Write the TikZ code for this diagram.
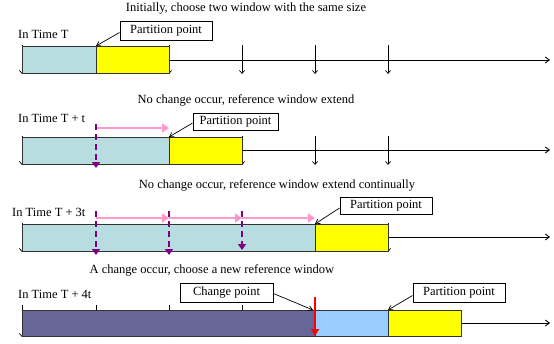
\documentclass[tikz,border=0pt]{standalone}
\usepackage{fontspec}
\setmainfont{Liberation Serif}
\usetikzlibrary{arrows.meta,calc}
\definecolor{refblue}{RGB}{183,221,224}
\definecolor{winyellow}{RGB}{255,255,0}
\definecolor{oldwin}{RGB}{102,102,153}
\definecolor{newblue}{RGB}{153,204,255}
\definecolor{pinkarr}{RGB}{255,153,204}
\definecolor{purparr}{RGB}{128,0,128}
\tikzset{
  win/.style={draw=black!80, line width=0.9pt, anchor=north west, inner sep=0pt, minimum height=27pt},
  timeline/.style={line width=0.9pt, -{Straight Barb[length=4pt,width=6pt]}},
  tickarr/.style={line width=0.7pt, -{Straight Barb[length=3pt,width=5pt]}},
  title/.style={font=\fontsize{12.5}{14}\selectfont, inner sep=0pt},
  label/.style={font=\fontsize{12.5}{14}\selectfont, inner sep=0pt, anchor=west},
  callout/.style={draw, line width=0.9pt, font=\fontsize{12.5}{14}\selectfont, inner sep=0pt, fill=white},
  pointer/.style={line width=0.7pt, -{Straight Barb[length=4pt,width=5pt]}},
  extend/.style={draw=pinkarr, line width=2.8pt, -{Triangle[length=7pt,width=9pt]}},
  tickdash/.style={draw=purparr, line width=2.6pt, dash pattern=on 6pt off 4pt, -{Triangle[length=6pt,width=8pt]}},
  changearr/.style={draw=red, line width=2.6pt, -{Triangle[length=7pt,width=8pt]}}
}
\begin{document}
\begin{tikzpicture}[x=1pt,y=-1pt]
\useasboundingbox (0,0) rectangle (554,343);

% ---------------- Row 1 ----------------
\node[title] (t1) at (246,9) {Initially, choose two window with the same size};
\node[label] (l1) at (18,34) {In Time T};
\coordinate (s1) at (22,60);
\coordinate (e1) at (550,60);
\draw[timeline] (s1) -- (e1);
\foreach \x in {22,96,169,242,315,388}{
  \coordinate (k1a\x) at (\x,45);
  \coordinate (k1b\x) at (\x,74);
  \draw[tickarr] (k1a\x) -- (k1b\x);
}
\node[win, fill=refblue, minimum width=74pt] (r1a) at (22,46) {};
\node[win, fill=winyellow, minimum width=73pt] (r1b) at (96,46) {};
\node[callout, minimum width=92pt, minimum height=19pt] (pp1) at (166,30.5) {Partition point};
\draw[pointer] ($(pp1.west)+(0,2)$) -- (r1b.north west);

% ---------------- Row 2 ----------------
\node[title] (t2) at (246,100) {No change occur, reference window extend};
\node[label] (l2) at (18,118) {In Time T + t};
\coordinate (s2) at (22,150);
\coordinate (e2) at (550,150);
\draw[timeline] (s2) -- (e2);
\foreach \x in {22,96,169,242,315,388}{
  \coordinate (k2a\x) at (\x,136);
  \coordinate (k2b\x) at (\x,165);
  \draw[tickarr] (k2a\x) -- (k2b\x);
}
\node[win, fill=refblue, minimum width=147pt] (r2a) at (22,137) {};
\node[win, fill=winyellow, minimum width=73pt] (r2b) at (169,137) {};
\node[callout, minimum width=85pt, minimum height=16.5pt] (pp2) at (235.5,122) {Partition point};
\draw[pointer] ($(pp2.west)+(0,1)$) -- (r2b.north west);
\coordinate (p2a) at (96,128);
\coordinate (p2b) at (169,128);
\draw[extend] (p2a) -- (p2b);
\coordinate (d2a) at (96,124);
\coordinate (d2b) at (96,168);
\draw[tickdash] (d2a) -- (d2b);

% ---------------- Row 3 ----------------
\node[title] (t3) at (277,185) {No change occur, reference window extend continually};
\node[label] (l3) at (12,212) {In Time T + 3t};
\coordinate (s3) at (22,237);
\coordinate (e3) at (550,237);
\draw[timeline] (s3) -- (e3);
\foreach \x in {22,96,169,242,315,388}{
  \coordinate (k3a\x) at (\x,223);
  \coordinate (k3b\x) at (\x,252);
  \draw[tickarr] (k3a\x) -- (k3b\x);
}
\node[win, fill=refblue, minimum width=293pt] (r3a) at (22,224) {};
\node[win, fill=winyellow, minimum width=73pt] (r3b) at (315,224) {};
\node[callout, minimum width=92pt, minimum height=16.5pt] (pp3) at (386,206) {Partition point};
\draw[pointer] ($(pp3.west)+(0,2)$) -- (r3b.north west);
\coordinate (p3a) at (96,218);
\coordinate (p3b) at (169,218);
\coordinate (p3c) at (242,218);
\coordinate (p3d) at (315,218);
\draw[extend] (p3a) -- (p3b);
\draw[extend] (p3b) -- (p3c);
\draw[extend] (p3c) -- (p3d);
\coordinate (d3a) at (96,211);
\coordinate (d3b) at (96,255);
\coordinate (d3c) at (169,211);
\coordinate (d3d) at (169,255);
\coordinate (d3e) at (242,211);
\coordinate (d3f) at (242,250);
\draw[tickdash] (d3a) -- (d3b);
\draw[tickdash] (d3c) -- (d3d);
\draw[tickdash] (d3e) -- (d3f);

% ---------------- Row 4 ----------------
\node[title] (t4) at (212,270) {A change occur, choose a new reference window};
\node[label] (l4) at (18,294) {In Time T + 4t};
\coordinate (s4) at (22,323);
\coordinate (e4) at (550,323);
\draw[timeline] (s4) -- (e4);
\foreach \x in {22,96,169,242}{
  \coordinate (k4a\x) at (\x,305);
  \coordinate (k4b\x) at (\x,337);
  \draw[tickarr] (k4a\x) -- (k4b\x);
}
\node[win, fill=oldwin, minimum width=293pt, minimum height=26pt] (r4a) at (22,310) {};
\node[win, fill=newblue, minimum width=73pt, minimum height=26pt] (r4b) at (315,310) {};
\node[win, fill=winyellow, minimum width=73pt, minimum height=26pt] (r4c) at (388,310) {};
\node[callout, minimum width=93pt, minimum height=19pt] (cp4) at (226.5,292.5) {Change point};
\node[callout, minimum width=92pt, minimum height=19pt] (pp4) at (459,292.5) {Partition point};
\draw[pointer] ($(cp4.east)+(0,1)$) -- ($(r4b.north west)+(-2,0)$);
\draw[pointer] ($(pp4.west)+(0,3)$) -- (r4c.north west);
\coordinate (c4a) at (315,297);
\coordinate (c4b) at (315,336);
\draw[changearr] (c4a) -- (c4b);
\end{tikzpicture}
\end{document}
